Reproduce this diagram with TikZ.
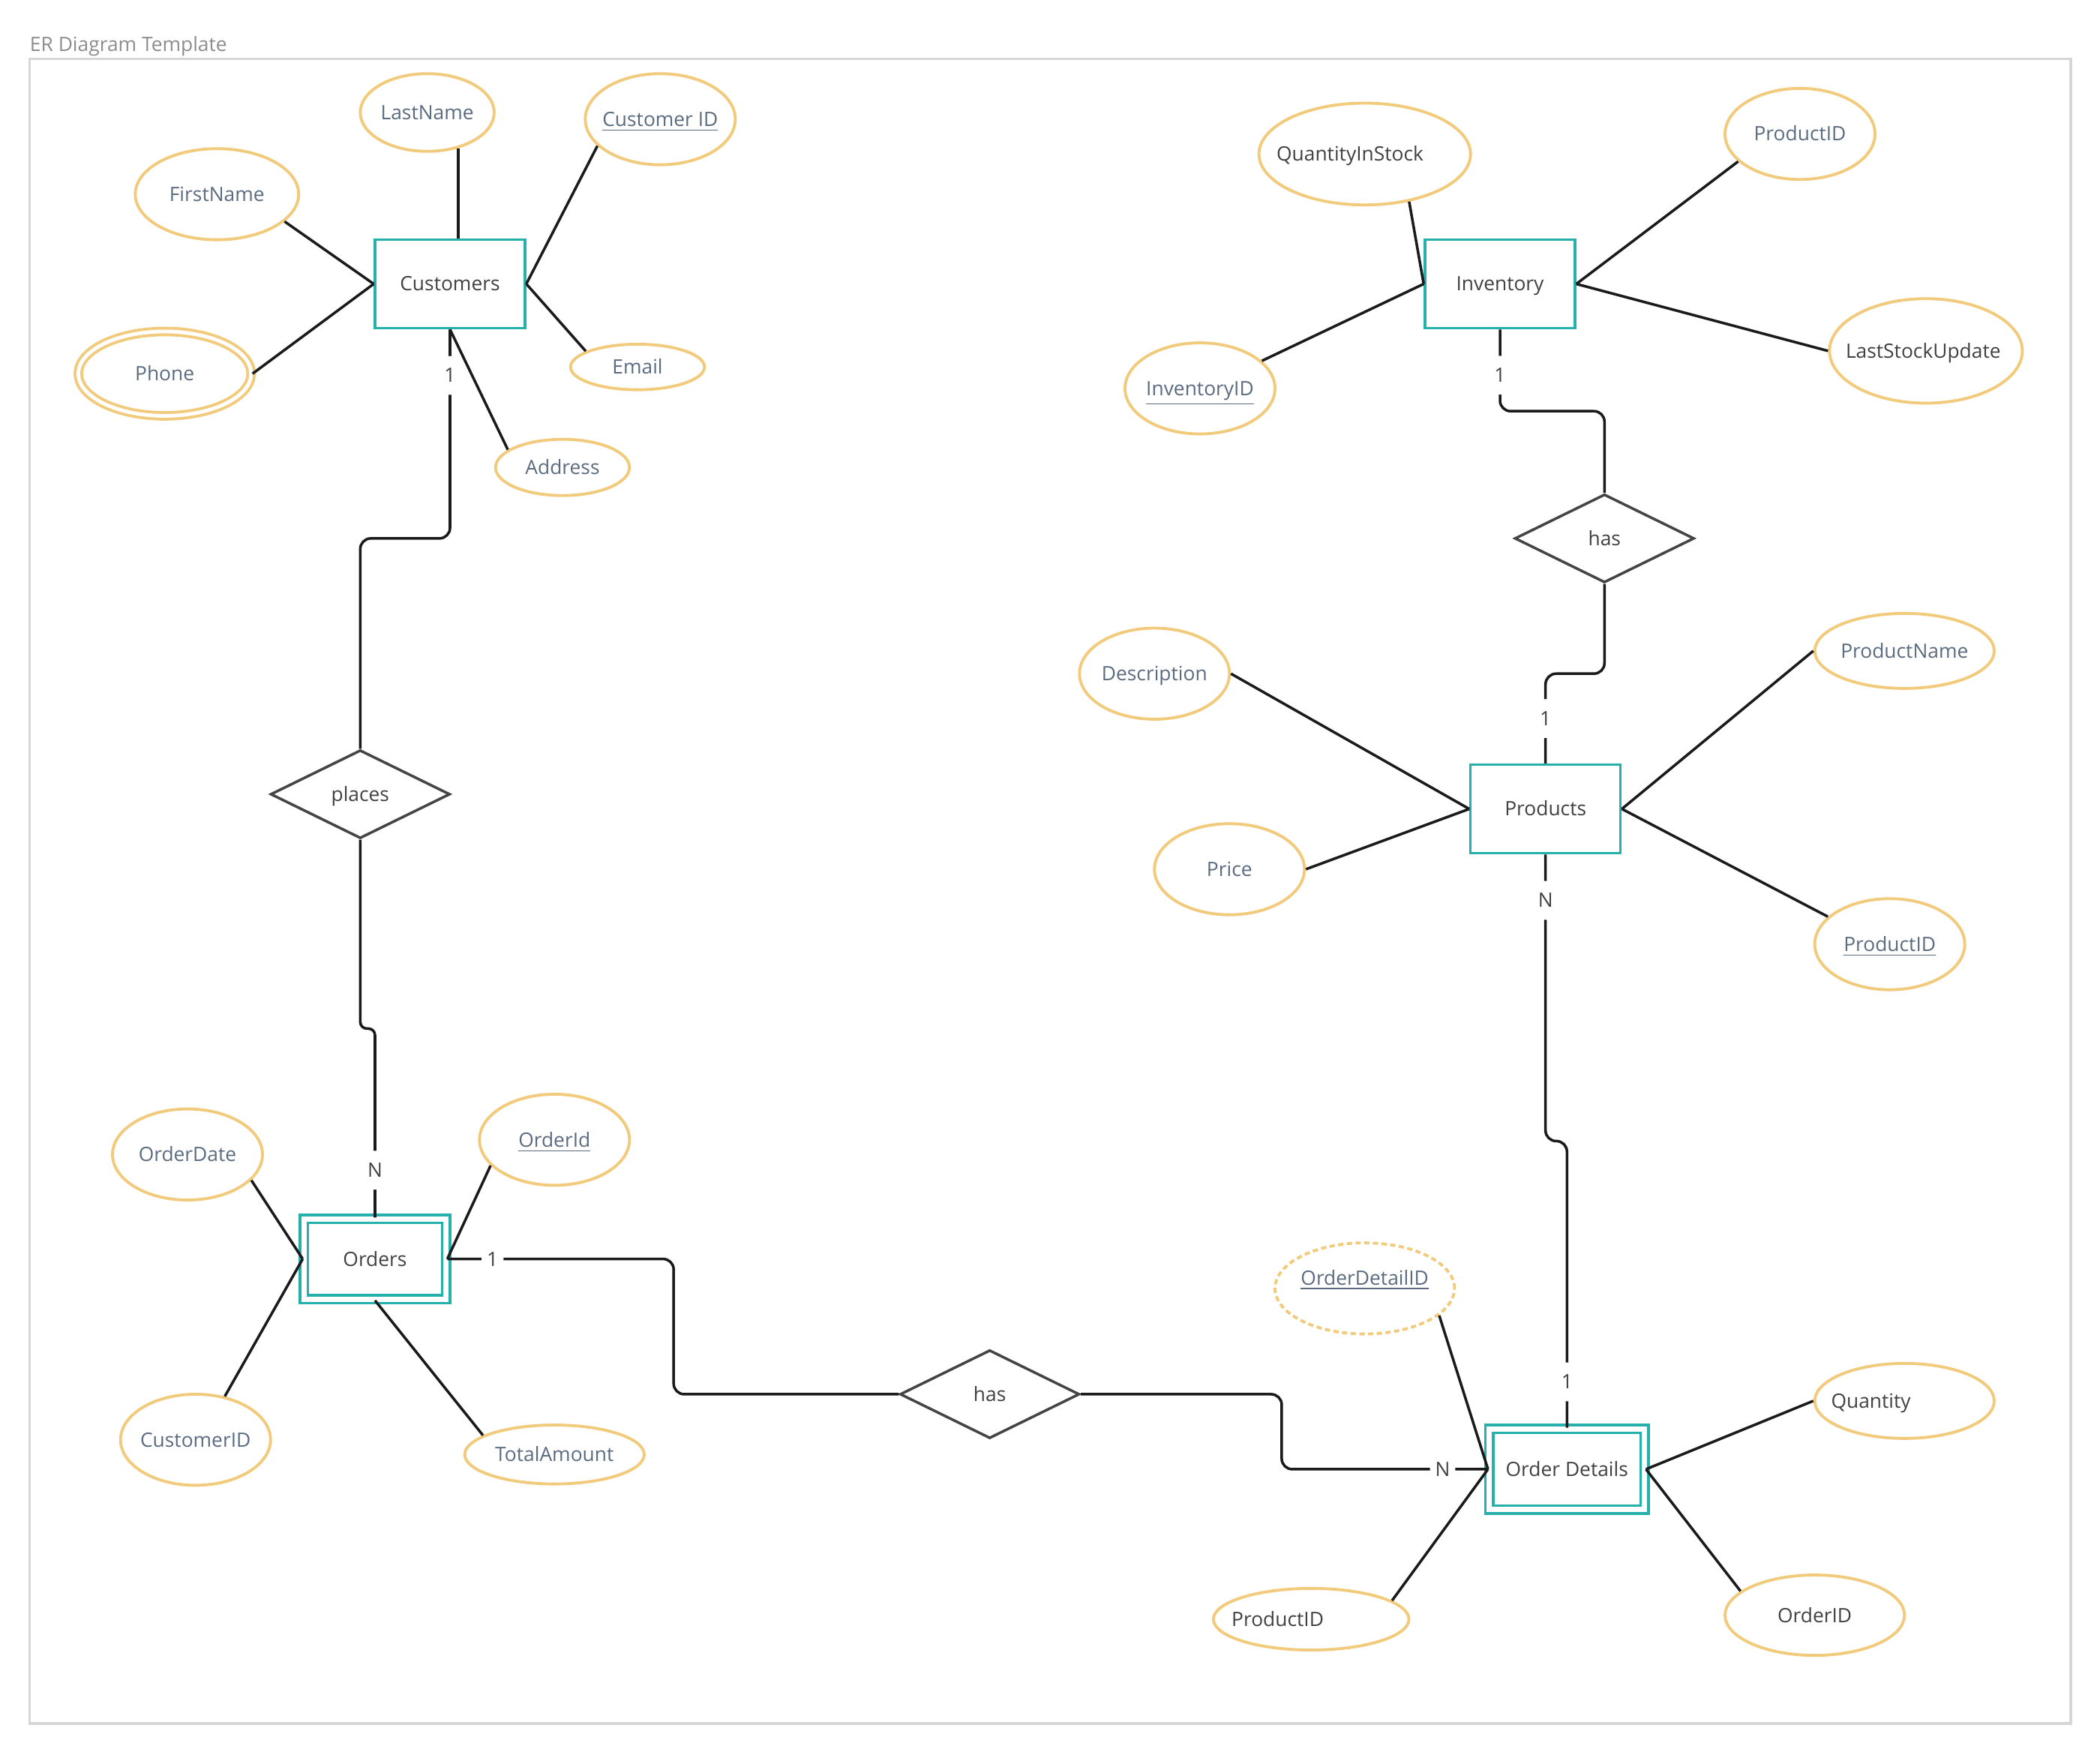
\documentclass[tikz,border=0pt]{standalone}
\usepackage{fontspec}
\setmainfont{Open Sans}
\usetikzlibrary{shapes.geometric}

\definecolor{entline}{HTML}{26B0AC}
\definecolor{attrline}{HTML}{F1CA7C}
\definecolor{attrtext}{HTML}{5A6B80}
\definecolor{enttext}{HTML}{404040}
\definecolor{relline}{HTML}{444444}
\definecolor{connline}{HTML}{1A1A1A}
\definecolor{framegray}{HTML}{D6D6D6}
\definecolor{titlegray}{HTML}{8C8C8C}

\newcommand{\dpx}{0.017857cm} % one pixel of the layout grid

\tikzset{
	every node/.append style={text height=1.5ex, text depth=.5ex},
	entity/.style={draw=entline, line width=1pt, text=enttext, inner sep=0pt,
		minimum width=112*\dpx, minimum height=66*\dpx},
	weak/.style={draw=entline, line width=1pt, double=white, double distance=2pt,
		text=enttext, inner sep=0pt, minimum width=106*\dpx, minimum height=60*\dpx},
	rel/.style={diamond, draw=relline, line width=1pt, text=enttext, inner sep=0pt,
		minimum width=134*\dpx, minimum height=66*\dpx},
	attr/.style={ellipse, draw=attrline, line width=1.1pt, inner sep=0pt},
	attrmulti/.style={attr, double=white, double distance=1.4pt},
	attrpart/.style={attr, dash pattern=on 2pt off 1.3pt},
	conn/.style={draw=connline, line width=1pt, rounded corners=4pt},
	card/.style={fill=white, text=enttext, inner sep=2pt}
}

\begin{document}
\begin{tikzpicture}[x=\dpx, y=-\dpx, font=\fontsize{7.5}{9}\selectfont]
	\useasboundingbox (0,0) rectangle (1568,1310);
	
	% Frame and title
	\draw[framegray, line width=1pt] (22,44) rectangle (1546,1287);
	\node[anchor=west, text=titlegray, inner sep=0pt] (title) at (22,33) {ER Diagram Template};
	
	% Entities
	\node[entity] (cust) at (336,212) {Customers};
	\node[entity] (inv) at (1120,212) {Inventory};
	\node[entity] (prod) at (1154,604) {Products};
	\node[weak] (ord) at (280,940) {Orders};
	\node[weak, minimum width=116*\dpx] (od) at (1170,1097) {Order Details};
	
	% Relationships
	\node[rel] (plc) at (269,593) {places};
	\node[rel] (hasA) at (1198,402) {has};
	\node[rel] (hasB) at (739,1041) {has};
	
	% Attributes: name/style/x/y/width/height/text shift x/text shift y/text colour/text
	\foreach \nm/\st/\cx/\cy/\w/\h/\dx/\dy/\tc/\txt in {
		ln/attr/319/84/100/58/0/0/attrtext/LastName,
		cid/attr/493/89/112/68/0/0/attrtext/\underline{Customer ID},
		fn/attr/162/145/122/68/0/0/attrtext/FirstName,
		ph/attrmulti/123/279/129/63/0/0/attrtext/Phone,
		em/attr/476/274/100/34/0/0/attrtext/Email,
		adr/attr/420/349/100/42/0/0/attrtext/Address,
		qis/attr/1019/115/158/76/-11/0/enttext/QuantityInStock,
		pidA/attr/1344/100/112/68/0/0/attrtext/ProductID,
		iid/attr/896/290/112/68/0/0/attrtext/\underline{InventoryID},
		lsu/attr/1438/262/144/78/-2/0/enttext/LastStockUpdate,
		desc/attr/862/503/112/68/0/0/attrtext/Description,
		pn/attr/1422/486/134/56/0/0/attrtext/ProductName,
		pr/attr/918/649/112/68/0/0/attrtext/Price,
		pidB/attr/1411/705/112/68/0/0/attrtext/\underline{ProductID},
		odt/attr/140/862/112/68/0/0/attrtext/OrderDate,
		oid/attr/414/851/112/68/0/0/attrtext/\underline{OrderId},
		cuid/attr/146/1075/112/68/0/0/attrtext/CustomerID,
		ta/attr/414/1086/134/44/0/0/attrtext/TotalAmount,
		odid/attrpart/1019/962/134/68/0/8/attrtext/\underline{OrderDetailID},
		qty/attr/1422/1046/134/56/-25/0/enttext/Quantity,
		pidC/attr/979/1209/146/46/-25/0/enttext/ProductID,
		oidB/attr/1355/1206/134/60/0/0/enttext/OrderID} {
		\node[\st, minimum width=\w*\dpx, minimum height=\h*\dpx,
			label={[text=\tc, xshift=\dx*\dpx, yshift=\dy*\dpx]center:\txt}] (\nm) at (\cx,\cy) {};
	}
	
	% Attribute links
	\draw[conn] (ln.311) -- (ln.311 |- cust.north);
	\foreach \a/\b in {cid.203/cust.east, fn.338/cust.west, ph.east/cust.west,
		em.163/cust.east, adr.162/cust.south,
		qis.313/inv.west, pidA.204/inv.east, iid.24/inv.west, lsu.west/inv.east,
		desc.east/prod.west, pr.east/prod.west, pn.west/prod.east, pidB.156/prod.east,
		odt.338/ord.west, oid.202/ord.east, cuid.56/ord.west, ta.165/ord.south,
		odid.340/od.west, pidC.13/od.west, qty.west/od.east, oidB.162/od.east} {
		\draw[conn] (\a) -- (\b);
	}
	
	% Bend points of the relationship links
	\coordinate (k1) at (0,402);
	\coordinate (k2) at (0,768);
	\coordinate (k3) at (0,307);
	\coordinate (k4) at (0,503);
	\coordinate (k5) at (0,852);
	\coordinate (k6) at (503,0);
	\coordinate (k7) at (957,0);
	
	% Relationship links with cardinalities
	\draw[conn] (cust.south) -- node[card, pos=.22] {1} (cust.south |- k1)
		-- (plc.north |- k1) -- (plc.north);
	\draw[conn, rounded corners=2.5pt] (plc.south) -- (plc.south |- k2)
		-- (ord.north |- k2) -- node[card, pos=.75] {N} (ord.north);
	\draw[conn] (inv.south) -- node[card, pos=.56] {1} (inv.south |- k3)
		-- (hasA.north |- k3) -- (hasA.north);
	\draw[conn] (hasA.south) -- (hasA.south |- k4)
		-- (prod.north |- k4) -- node[card, pos=.5] {1} (prod.north);
	\draw[conn] (prod.south) -- node[card, pos=.16] {N} (prod.south |- k5)
		-- (od.north |- k5) -- node[card, pos=.84] {1} (od.north);
	\draw[conn] (ord.east) -- node[card, pos=.2] {1} (ord.east -| k6)
		-- (hasB.west -| k6) -- (hasB.west);
	\draw[conn] (hasB.east) -- (hasB.east -| k7)
		-- (od.west -| k7) -- node[card, pos=.78] {N} (od.west);
\end{tikzpicture}
\end{document}
